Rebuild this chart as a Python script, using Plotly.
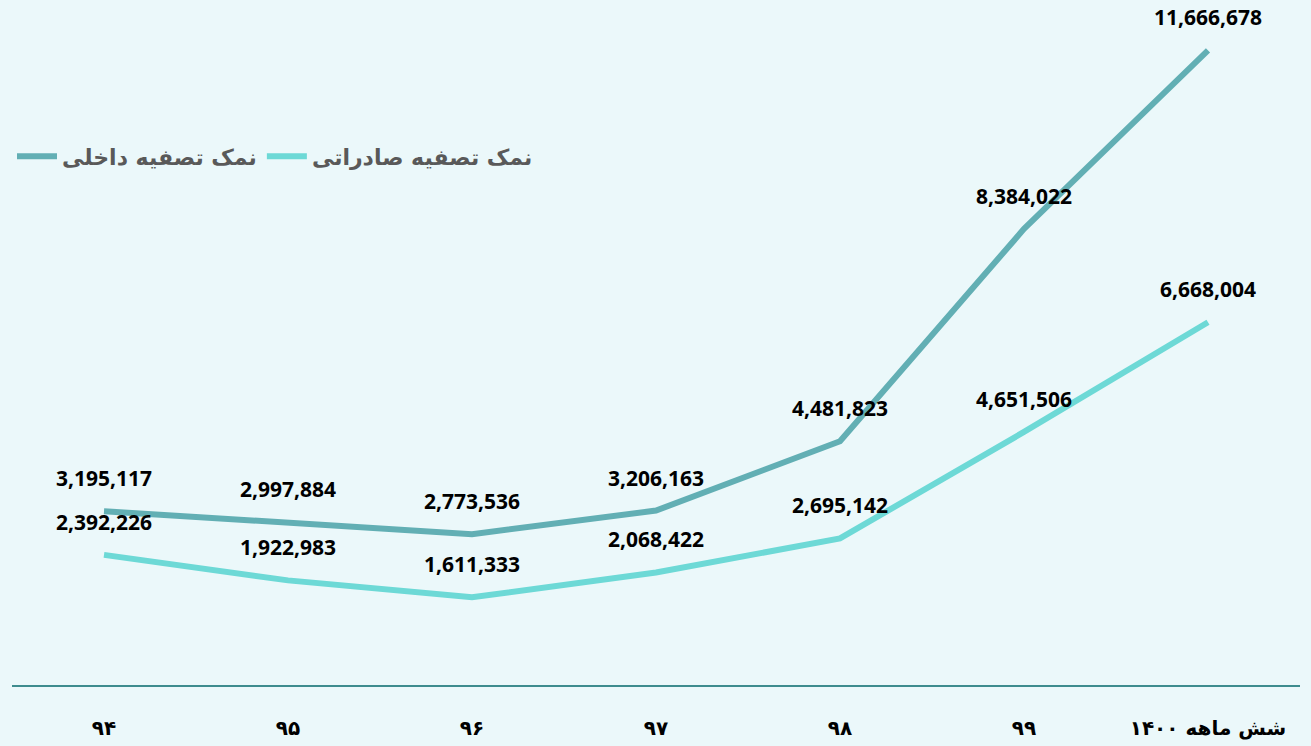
import plotly.graph_objects as go

categories = ["۹۴", "۹۵", "۹۶", "۹۷", "۹۸", "۹۹", "شش ماهه ۱۴۰۰"]
domestic = [3195117, 2997884, 2773536, 3206163, 4481823, 8384022, 11666678]
export = [2392226, 1922983, 1611333, 2068422, 2695142, 4651506, 6668004]
series_names = ["نمک تصفیه داخلی", "نمک تصفیه صادراتی"]
colors = ["#62AFB4", "#6DD9D6"]
bg = "#EBF8FA"

fig = go.Figure()
for name, vals, col in zip(series_names, [domestic, export], colors):
    fig.add_trace(go.Scatter(
        x=categories, y=vals, mode="lines", name=name,
        line=dict(color=col, width=6, shape="linear"),
        hoverinfo="skip",
    ))
    for c, v in zip(categories, vals):
        fig.add_annotation(
            x=c, y=v, text=f"{v:,}", showarrow=False, yshift=33,
            font=dict(family="Open Sans", size=21, color="#000000", weight="bold"),
        )

fig.update_layout(
    width=1311, height=746,
    paper_bgcolor=bg, plot_bgcolor=bg,
    margin=dict(l=12, r=11, t=5, b=61, autoexpand=False),
    showlegend=True,
    legend=dict(
        orientation="h", x=0, xanchor="left", y=0.808, yanchor="top",
        font=dict(family="DejaVu Sans", size=22, color="#595959", weight="bold"),
        bgcolor="rgba(0,0,0,0)", itemwidth=40,
    ),
    xaxis=dict(
        type="category", range=[-0.5, 6.5], showgrid=False, zeroline=False,
        showline=True, linecolor="#3E8C8E", linewidth=2, automargin=False,
        ticks="", ticklabelstandoff=24,
        tickfont=dict(family="DejaVu Sans", size=20, color="#000000", weight="bold"),
    ),
    yaxis=dict(
        range=[0, 12.5e6], showgrid=False, zeroline=False, showticklabels=False,
        showline=False, automargin=False,
    ),
)

fig.write_html(
    "out.html",
    config={"displayModeBar": False},
    post_script="document.body.style.margin='0';document.body.style.overflow='hidden';",
)
